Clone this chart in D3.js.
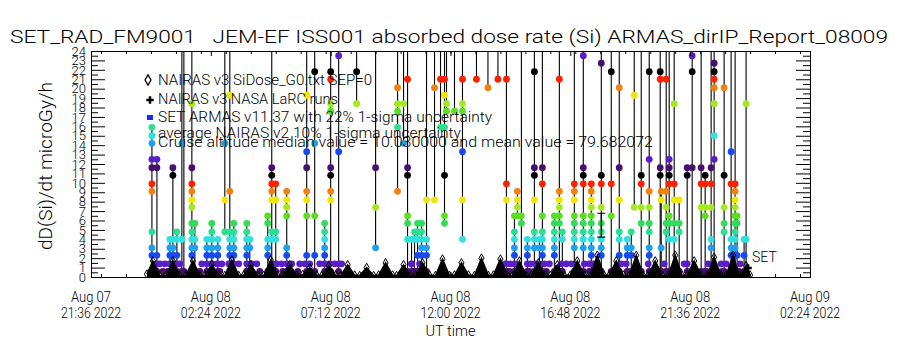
<!DOCTYPE html>
<html><head><meta charset="utf-8">
<script src="https://cdn.jsdelivr.net/npm/d3@7"></script>
<style>body{margin:0;background:#fff}svg{display:block}text{font-family:Roboto,"DejaVu Sans",sans-serif;font-weight:300;fill:#000;white-space:pre}</style>
</head><body>
<svg id="c" width="900" height="350"></svg>
<script>
// ---------- data ----------
const titleText = "SET_RAD_FM9001   JEM-EF ISS001 absorbed dose rate (Si) ARMAS_dirIP_Report_08009";
const yTitle = "dD(Si)/dt microGy/h";
const xTitle = "UT time";
const xDomain = ["2022-08-07T21:36:00Z", "2022-08-09T02:24:00Z"];
const xTickTimes = ["2022-08-07T21:36:00Z","2022-08-08T02:24:00Z","2022-08-08T07:12:00Z","2022-08-08T12:00:00Z","2022-08-08T16:48:00Z","2022-08-08T21:36:00Z","2022-08-09T02:24:00Z"];
const xTickLine1 = ["Aug 07","Aug 08","Aug 08","Aug 08","Aug 08","Aug 08","Aug 09"];
const xTickLine2 = ["21:36 2022","02:24 2022","07:12 2022","12:00 2022","16:48 2022","21:36 2022","02:24 2022"];
const yTicks = [0,1,2,3,4,5,6,7,8,9,10,11,12,13,14,15,16,17,18,19,20,21,22,23,24];
const yTickLabels = ["0","1","2","3","4","5","6","7","8","9","10","11","12","13","14","15","16","17","18","19","20","21","22","23","24"];
const legendLabels = ["NAIRAS v3 SiDose_G0.txt SEP=0","NAIRAS v3 NASA LaRC runs","SET ARMAS v11.37 with 22% 1-sigma uncertainty","average NAIRAS v2 10% 1-sigma uncertainty","Cruise altitude median value = 10.030000 and mean value = 79.682072"];

// NAIRAS v3 SiDose_G0 (hours since 2022-08-08 00:00 UT)
const nairasHour = [-0.16,0.08,0.36,0.60,0.88,1.16,1.40,1.68,1.96,2.16,2.44,2.72,2.96,3.24,3.52,3.72,4.00,4.28,4.52,4.80,5.08,5.28,5.56,5.84,6.08,6.36,6.64,6.84,7.12,7.40,7.60,7.88,8.16,8.36,8.64,8.92,9.12,9.40,9.68,9.84,10.12,10.40,10.60,10.88,11.16,11.40,11.68,11.96,12.16,12.44,12.72,12.96,13.24,13.52,13.72,14.00,14.28,14.48,14.76,15.04,15.24,15.52,15.80,16.00,16.28,16.56,16.80,17.08,17.36,17.60,17.88,18.16,18.36,18.64,18.92,19.16,19.44,19.72,19.92,20.20,20.48,20.72,21.00,21.28,21.48,21.76,22.04,22.28,22.56,22.84,23.04,23.32,23.56,23.68,23.84,24.00];
const nairasDose = [0.3,1.7,0.15,0.2,1.7,0.15,0.2,1.7,0.15,0.2,1.3,0.2,0.15,1.8,0.15,0.2,1.3,0.2,0.15,1.8,0.15,0.2,1.3,0.2,0.25,1.0,0.2,0.15,1.2,0.2,0.15,1.3,0.2,0.15,1.0,0.15,0.2,1.5,0.2,0.15,1.3,0.15,0.2,1.5,0.2,0.15,1.9,0.15,0.2,1.5,0.2,0.15,2.0,0.15,0.2,1.9,0.2,0.15,1.7,0.15,0.2,1.5,0.2,0.15,1.3,0.15,0.2,1.7,0.2,0.15,2.3,0.15,0.2,1.7,0.2,0.15,2.3,0.15,0.2,1.7,0.2,0.15,2.3,0.15,0.2,1.7,0.2,0.15,2.1,0.15,0.2,2.3,0.2,0.3,1.2,0.2];

// NAIRAS v3 NASA LaRC runs
const larcHour = [23.92];
const larcDose = [0.96];

// average NAIRAS v2 with 10% 1-sigma
const nv2Hour = [18.04];
const nv2Dose = [5.5];
const nv2Err = [1.27];

// SET ARMAS samples grouped in bursts (hours since 2022-08-08 00:00 UT); 30 = off scale
const armasHour = [0.04,0.24,0.76,0.88,1.04,1.24,1.32,1.64,1.76,2.24,2.44,2.68,2.96,3.16,3.32,3.84,3.96,4.68,4.84,5.00,5.44,6.24,6.56,6.96,7.20,7.52,8.24,9.00,9.88,10.12,10.28,10.44,10.56,10.68,10.84,11.04,11.36,11.60,11.76,11.84,12.16,12.48,13.04,13.50,13.90,14.24,14.56,14.68,14.84,15.08,15.36,15.56,15.68,16.16,16.36,16.48,16.96,17.32,17.64,18.04,18.44,18.76,19.08,19.24,19.36,19.64,19.96,20.40,20.44,20.64,20.76,20.96,21.16,21.48,21.68,22.04,22.20,22.44,22.56,22.96,23.24,23.40,23.48,23.76,23.84];
const armasDose = [
 [0.6,2.3,3.1,4.8,9.1,9.9,11.6,12.5,14.2,15.0,15.9],
 [0.6,1.4,2.3,11.6,12.5],
 [0.6,2.3,3.1,4.0],
 [0.6,2.3,3.1,4.0,10.8,11.6],
 [0.6,1.4,2.3,4.0,4.8],
 [0.6,4.0,14.2,30],
 [0.6,30],
 [0.6,2.3,3.1,4.0,4.8,5.7,7.4,8.2,9.1,9.9,11.6,18.4,30],
 [0.6,3.1,4.0,5.7],
 [0.6,2.3,3.1,4.0],
 [0.6,1.4,2.3,3.1,4.0,4.8,5.7],
 [0.6,1.4,2.3,3.1,4.0],
 [4.8,8.2,14.2,30],
 [0.6,1.4,2.3,3.1,4.0,4.8,9.1,19.3,30],
 [0.6,2.3,3.1,4.0,4.8,5.7],
 [0.6,1.4,2.3,3.1,4.0,4.8,5.7],
 [0.6,3.1,4.0],
 [0.6,2.3,3.1,4.0,5.7,6.5],
 [0.6,4.0,4.8,8.2,9.1,9.9,10.8,11.6,30],
 [0.6,4.0,4.8,8.2,9.9],
 [0.6,2.3,3.1,6.5,7.4,8.2,9.1],
 [0.6,2.3,6.5,8.2,9.1,11.6,13.3,19.3,30],
 [0.6,2.3,6.5,14.2,21.8,30],
 [0.6,2.3,3.1,4.0,4.8,5.7],
 [0.6,8.2,9.1,10.8,11.6,17.6,18.4,21.0,21.8,30],
 [0.6,1.4,13.3,23.5,30],
 [18.4,21.8,30],
 [3.1,7.4,11.6,30],
 [9.1,15.9,17.6,18.4,20.1,30],
 [14.2,18.4,30],
 [0.6,4.0,5.7,6.5,10.8,11.6,21.0,30],
 [0.6,1.4,4.0],
 [0.6,4.0,4.8],
 [0.6,2.3,4.0,4.8,5.7],
 [0.6,2.3,3.1,4.0,4.8,5.7],
 [0.6,2.3,3.1,4.0,8.2,30],
 [8.2,20.1,30],
 [15.9,21.0,30],
 [5.7,6.5,10.8,15.9,19.3,21.0,30],
 [17.6,18.4,30],
 [17.6,30],
 [4.0,8.2,13.3,17.6,18.4,21.0,30],
 [21.0,30],
 [20.1,30],
 [21.0,30],
 [0.6,1.4,8.2,9.9,21.0,30],
 [0.6,1.4,2.3,3.1,4.0,4.8,6.5],
 [6.5,7.4,8.2,9.1],
 [0.6,5.7,6.5,30],
 [0.6,1.4,2.3,3.1,4.0],
 [0.6,3.1,4.0,4.8,8.2,10.8,11.6,21.8,30],
 [0.6,1.4,3.1,4.0],
 [0.6,2.3,3.1,4.0,4.8,6.5,9.9,11.6,30],
 [0.6,2.3,3.1,4.0,4.8,5.7,6.5],
 [0.6,5.7,6.5,7.4,8.2,9.1,21.0,30],
 [0.6,4.0,4.8],
 [0.6,3.1,4.0,4.8,5.7,6.5,8.2,9.1,9.9,30],
 [0.6,3.1,4.0,4.8,5.7,6.5,9.9,10.8,11.6,23.5,30],
 [0.6,1.4,2.3,3.1,4.0,4.8,5.7,6.5,7.4,8.2,9.1,9.9],
 [0.6,2.3,3.1,4.0,4.8,5.7,7.4,9.9,10.8,22.7,30],
 [0.6,6.5,9.9,21.8,30],
 [0.6,2.3,4.0,4.8,8.2,11.6,20.1,30],
 [0.6,2.3,3.1,4.0],
 [0.6,2.3,3.1,4.8],
 [7.4,19.3,30],
 [0.6,5.7,7.4,9.9,10.8,30],
 [0.6,2.3,3.1,4.8,5.7,7.4,9.1,12.5,21.8,30],
 [0.6,10.8,11.6,21.0,21.8,30],
 [0.6,3.1,8.2,9.1],
 [0.6,4.8,5.7,7.4,9.1,21.0,30],
 [0.6,4.0,5.7,6.5,9.9,10.8,11.6,12.5,30],
 [0.6,4.0,5.7,8.2,9.9,18.4,30],
 [0.6,4.8,5.7,8.2],
 [0.6,1.4,10.8,11.6],
 [0.6,11.6,21.8,23.5,30],
 [0.6,7.4,9.9,11.6,30],
 [0.6,6.5,7.4,9.9,10.8],
 [0.6,3.1,4.0,7.4,9.9,11.6,30],
 [0.6,12.5,15.0,18.4,20.1,21.0,21.8,22.7,30],
 [0.6,4.8,5.7,7.4,10.8,20.1,30],
 [0.6,2.3,3.1,4.0,9.9,13.3,30],
 [0.6,2.3,3.1,4.0,4.8,5.7,6.5,7.4,8.2,9.1,9.9,30],
 [0.6,2.3,5.7,6.5],
 [0.6,2.3,4.0],
 [0.6,4.0,18.4,30]
];
// isolated low-level SET ARMAS samples
const armasLowHour = [0.36,0.56,0.76,0.96,1.16,2.04,2.24,2.44,2.64,2.84,3.12,3.32,3.52,4.04,4.24,4.84,5.04,5.24,5.44,5.64,5.96,6.16,6.36,6.76,6.96,7.16,7.36,7.64,10.44,10.76,14.20,14.40,15.20,15.40,15.76,15.96,16.44,16.64,16.84,17.36,17.56,17.76,18.84,19.04,19.92,20.56,21.36,22.32,22.84,23.04,23.60,
 0.48,0.68,1.96,2.76,3.84,4.36,5.28,5.88,7.04,10.48,14.36,15.16,15.84,17.56,18.64,20.28,22.24,22.88,23.56];
const armasLowDose = [1.4,1.4,1.4,1.4,1.4,1.4,1.4,1.4,1.4,1.4,1.4,1.4,1.4,1.4,1.4,1.4,1.4,1.4,1.4,1.4,1.4,1.4,1.4,1.4,1.4,1.4,1.4,1.4,1.4,1.4,1.4,1.4,1.4,1.4,1.4,1.4,1.4,1.4,1.4,1.4,1.4,1.4,1.4,1.4,1.4,1.4,1.4,1.4,1.4,1.4,1.4,
 0.6,0.6,0.6,0.6,0.6,0.6,0.6,0.6,0.6,0.6,0.6,0.6,0.6,0.6,0.6,0.6,0.6,0.6,0.6];

// colour cycle of the ARMAS dose levels
const levelColors = ["#48106e","#5a1ec8","#1848f0","#1ea0f0","#30e0dc","#28e090","#30dc58","#58e020","#a4e820","#f0e600","#f08010","#ff2000","#000000"];

// ---------- drawing ----------
const svg = d3.select("#c");
const L = 91, R = 810, T = 51, B = 277;
const base = Date.UTC(2022, 7, 8);
const tAt = h => new Date(base + h * 3600e3);
const x = d3.scaleUtc().domain(xDomain.map(s => new Date(s))).range([L, R]);
const y = d3.scaleLinear().domain([0, 24]).range([B, T]);
const colorOf = v => { const k = Math.round((v - 0.56) / 0.85); return levelColors[((k % 13) + 13) % 13]; };

svg.append("defs").append("clipPath").attr("id", "clip")
  .append("rect").attr("x", L).attr("y", T).attr("width", R - L).attr("height", B - T);

// title
svg.append("text").attr("x", 10).attr("y", 43).attr("font-size", 19)
  .attr("textLength", 878).attr("lengthAdjust", "spacingAndGlyphs").text(titleText);

const plot = svg.append("g").attr("clip-path", "url(#clip)");

// ARMAS lines
const line = d3.line().x(d => x(tAt(d[0]))).y(d => y(d[1]));
armasHour.forEach((h, i) => {
  const ds = armasDose[i];
  const pts = [[h, d3.min(ds)], [h, d3.max(ds)]];
  plot.append("path").attr("d", line(pts)).attr("stroke", "#000").attr("stroke-width", 1.1).attr("fill", "none");
});
// ARMAS dots
const dots = [];
armasHour.forEach((h, i) => armasDose[i].forEach(v => { if (v <= 24.5) dots.push([h, v]); }));
armasLowHour.forEach((h, i) => dots.push([h, armasLowDose[i]]));
plot.selectAll("circle.a").data(dots).join("circle").attr("class", "a")
  .attr("cx", d => x(tAt(d[0]))).attr("cy", d => y(d[1])).attr("r", 3.4)
  .attr("fill", d => colorOf(d[1]));

// NAIRAS v3 SiDose band
const nPts = nairasHour.map((h, i) => [h, nairasDose[i]]);
plot.append("path").attr("d", d3.area().x(d => x(tAt(d[0]))).y0(y(0)).y1(d => y(d[1]))(nPts))
  .attr("fill", "#000");
plot.append("path").attr("d", line(nPts)).attr("stroke", "#000").attr("stroke-width", 1.5).attr("fill", "none");
plot.selectAll("path.dm").data(nPts).join("path").attr("class", "dm")
  .attr("transform", d => `translate(${x(tAt(d[0]))},${y(d[1])})`)
  .attr("d", d3.symbol(d3.symbolDiamond, 22)).attr("fill", "none").attr("stroke", "#000").attr("stroke-width", 1);

// LaRC plus
plot.selectAll("path.pl").data(larcHour).join("path").attr("class", "pl")
  .attr("transform", (h, i) => `translate(${x(tAt(h))},${y(larcDose[i])})`)
  .attr("d", d3.symbol(d3.symbolCross, 30)).attr("fill", "#000");

// NAIRAS v2 error bar
nv2Hour.forEach((h, i) => {
  const cx = x(tAt(h)), y1 = y(nv2Dose[i] + nv2Err[i]), y2 = y(nv2Dose[i] - nv2Err[i]);
  plot.append("path").attr("d", `M${cx - 4},${y1}H${cx + 4}M${cx},${y1}V${y2}M${cx - 4},${y2}H${cx + 4}`)
    .attr("stroke", "#000").attr("stroke-width", 1.2).attr("fill", "none");
});

// SET label
svg.append("text").attr("x", 752).attr("y", 262).attr("font-size", 14).text("SET");

// axes
const axG = svg.append("g");
const yMinor = d3.range(0.5, 24, 1);
axG.append("g").attr("transform", `translate(${L},0)`)
  .call(d3.axisLeft(y).tickValues(yTicks).tickFormat((d, i) => yTickLabels[i]).tickSizeInner(-14).tickSizeOuter(0).tickPadding(5))
  .call(g => g.selectAll("text").attr("font-family", "Roboto, DejaVu Sans").attr("font-size", 13).attr("fill", "#000"));
axG.append("g").attr("transform", `translate(${L},0)`)
  .call(d3.axisLeft(y).tickValues(yMinor).tickFormat("").tickSizeInner(-7).tickSizeOuter(0));
axG.append("g").attr("transform", `translate(${R},0)`)
  .call(d3.axisRight(y).tickValues(yTicks).tickFormat("").tickSizeInner(-14).tickSizeOuter(0));
axG.append("g").attr("transform", `translate(${R},0)`)
  .call(d3.axisRight(y).tickValues(yMinor).tickFormat("").tickSizeInner(-7).tickSizeOuter(0));
const xMaj = xTickTimes.map(s => new Date(s));
const xMin = d3.utcMinute.every(72).range(new Date(xDomain[0]), new Date(xDomain[1]));
axG.append("g").attr("transform", `translate(0,${B})`)
  .call(d3.axisBottom(x).tickValues(xMaj).tickFormat("").tickSizeInner(-5).tickSizeOuter(0));
axG.append("g").attr("transform", `translate(0,${B})`)
  .call(d3.axisBottom(x).tickValues(xMin).tickFormat("").tickSizeInner(-3).tickSizeOuter(0));
axG.append("g").attr("transform", `translate(0,${T})`)
  .call(d3.axisTop(x).tickValues(xMaj).tickFormat("").tickSizeInner(-5).tickSizeOuter(0));
axG.append("g").attr("transform", `translate(0,${T})`)
  .call(d3.axisTop(x).tickValues(xMin).tickFormat("").tickSizeInner(-3).tickSizeOuter(0));
axG.selectAll("path.domain, line").attr("stroke", "#000");

// x tick labels
xMaj.forEach((d, i) => {
  svg.append("text").attr("x", x(d)).attr("y", 302).attr("text-anchor", "middle").attr("font-size", 15)
    .attr("textLength", 40).attr("lengthAdjust", "spacingAndGlyphs").text(xTickLine1[i]);
  svg.append("text").attr("x", x(d)).attr("y", 318).attr("text-anchor", "middle").attr("font-size", 15)
    .attr("textLength", 60).attr("lengthAdjust", "spacingAndGlyphs").text(xTickLine2[i]);
});
svg.append("text").attr("x", (L + R) / 2).attr("y", 336).attr("text-anchor", "middle").attr("font-size", 15)
  .attr("textLength", 50).attr("lengthAdjust", "spacingAndGlyphs").text(xTitle);
svg.append("text").attr("transform", "translate(52,166) rotate(-90)").attr("text-anchor", "middle")
  .attr("font-size", 18).attr("textLength", 168).attr("lengthAdjust", "spacingAndGlyphs").text(yTitle);

// legend
const lg = svg.append("g").attr("font-size", 14);
const lgY = [85, 104, 122, 138, 147];
const lgLen = [214, 180, 334, 303, 495];
legendLabels.forEach((t, i) => {
  lg.append("text").attr("x", 158).attr("y", lgY[i]).attr("textLength", lgLen[i])
    .attr("lengthAdjust", "spacingAndGlyphs").text(t);
});
lg.append("path").attr("transform", "translate(148,80)").attr("d", d3.symbol(d3.symbolDiamond, 30))
  .attr("fill", "none").attr("stroke", "#000").attr("stroke-width", 1.3);
lg.append("path").attr("transform", "translate(150,100)").attr("d", d3.symbol(d3.symbolCross, 30)).attr("fill", "#000");
lg.append("rect").attr("x", 147).attr("y", 115).attr("width", 6).attr("height", 5).attr("fill", "#1030f0");
</script>
</body></html>
